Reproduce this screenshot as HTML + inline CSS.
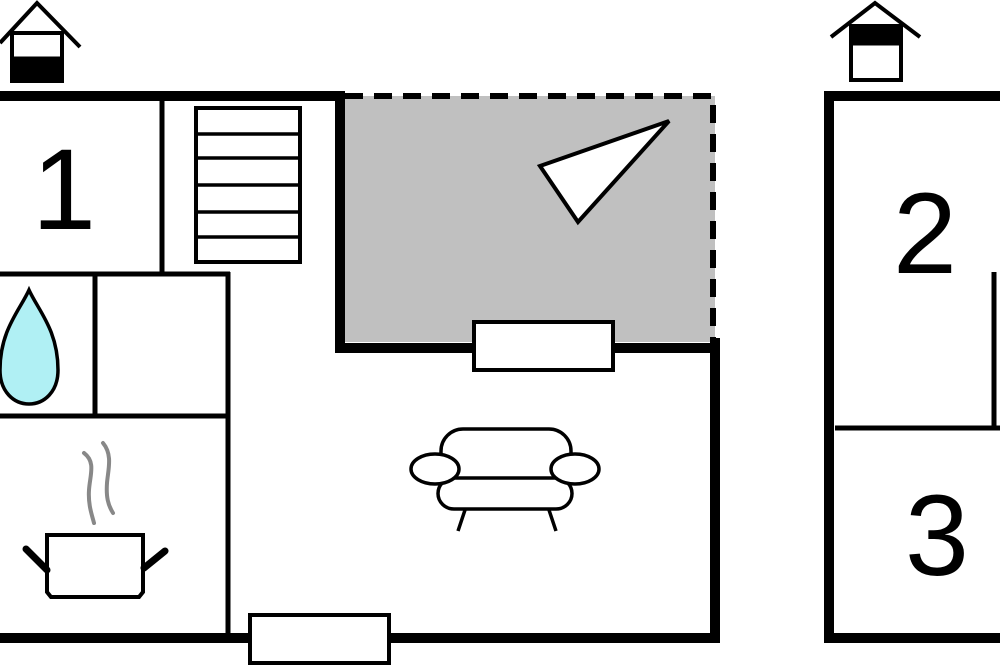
<!DOCTYPE html>
<html><head><style>body{margin:0;background:#fff}svg{display:block}</style></head><body>
<svg width="1000" height="666" viewBox="0 0 1000 666" xmlns="http://www.w3.org/2000/svg">
<rect width="1000" height="666" fill="#fff"/>
<!-- terrace -->
<rect x="343" y="96" width="372" height="246" fill="#c0c0c0"/>
<path d="M345 96 H713 V338" fill="none" stroke="#000" stroke-width="6" stroke-dasharray="18 11"/>
<!-- thick walls -->
<g stroke="#000" stroke-width="10" fill="none">
<path d="M0 96 H345 M340 91 V348 H720 M715 338 V643 M0 638 H720"/>
<path d="M829 91 V643 M824 96 H1000 M824 638 H1000"/>
</g>
<!-- thin walls -->
<g stroke="#000" stroke-width="5" fill="none">
<path d="M162 96 V276 M0 274 H230 M228 272 V638 M95 274 V416 M0 416 H230"/>
<path d="M835 428 H1000 M994 272 V428"/>
</g>
<!-- stairs -->
<g stroke="#000" stroke-width="4" fill="#fff">
<rect x="196" y="108" width="104" height="154"/>
<path d="M196 134 H300 M196 158 H300 M196 185 H300 M196 212 H300 M196 237 H300" stroke-width="3.5"/>
</g>
<!-- windows -->
<rect x="474" y="322" width="139" height="48" fill="#fff" stroke="#000" stroke-width="4"/>
<rect x="250" y="615" width="139" height="48" fill="#fff" stroke="#000" stroke-width="4"/>
<!-- triangle -->
<polygon points="540,166 669,121 578,222" fill="#fff" stroke="#000" stroke-width="4"/>
<!-- sofa -->
<g stroke="#000" stroke-width="3.5" fill="#fff">
<rect x="441" y="429" width="130" height="52" rx="22"/>
<rect x="438" y="478" width="134" height="31" rx="16"/>
<ellipse cx="435" cy="469" rx="24" ry="15"/>
<ellipse cx="575" cy="469" rx="24" ry="15"/>
<path d="M465 510 L458 531 M549 510 L556 531"/>
</g>
<!-- drop -->
<path d="M29 290 C20 310 0 330 0 370 C0 392 14 404 29 404 C44 404 58 392 58 370 C58 330 38 310 29 290 Z" fill="#b0f0f4" stroke="#000" stroke-width="3.5"/>
<!-- pot -->
<g stroke="#000" fill="none">
<path d="M47 535 H143 V592 L139 597 H51 L47 592 Z" fill="#fff" stroke-width="4"/>
<path d="M26 549 L47 570 M165 551 L144 568" stroke-width="7" stroke-linecap="round"/>
</g>
<path d="M84 453 C96 462 90 475 89 490 C88 505 92 515 94 523 M103 443 C113 455 108 470 107 483 C106 497 108 505 113 513" stroke="#888" stroke-width="4" fill="none" stroke-linecap="round"/>
<!-- house icons -->
<g stroke="#000" fill="none">
<path d="M0 43 L37 3 L80 47" stroke-width="4"/>
<rect x="12" y="33" width="50" height="48" fill="#fff" stroke-width="4"/>
<rect x="12" y="57" width="50" height="25" fill="#000"/>
<path d="M831 37 L875 3 L920 37" stroke-width="4"/>
<rect x="851" y="26" width="50" height="54" fill="#fff" stroke-width="4"/>
<rect x="851" y="26" width="50" height="19" fill="#000"/>
</g>
<!-- numbers -->
<g font-family="Liberation Sans, sans-serif" font-size="115" fill="#000" text-anchor="middle">
<text x="64" y="229">1</text>
<text x="925" y="273">2</text>
<text x="937" y="575">3</text>
</g>
</svg>
</body></html>
